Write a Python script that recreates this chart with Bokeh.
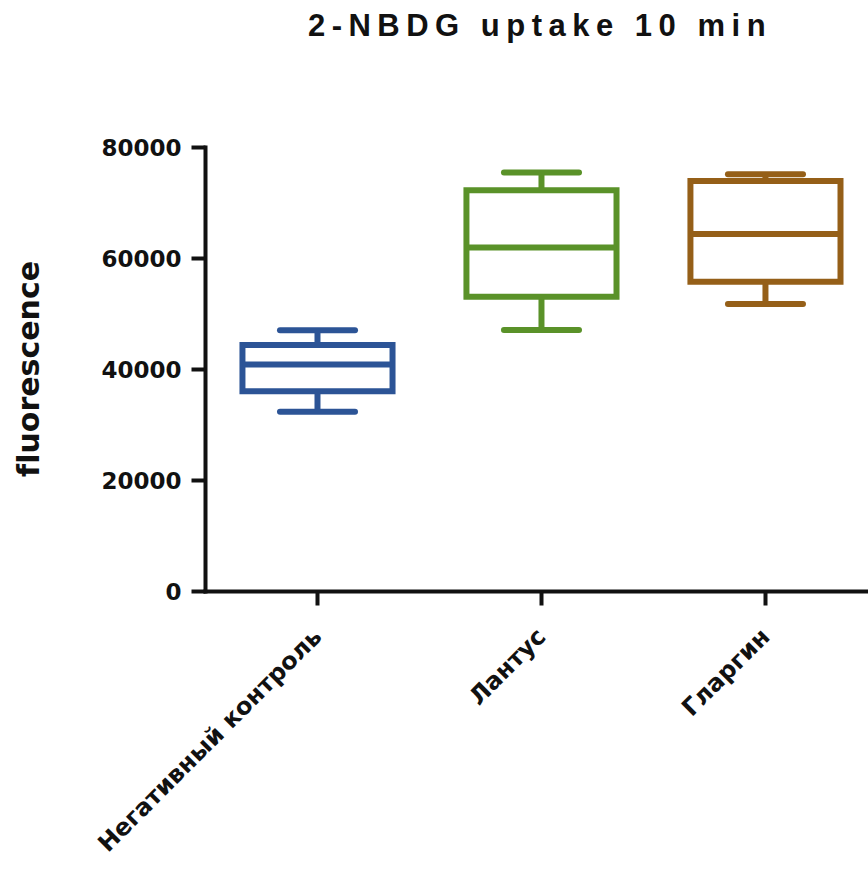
import math
from bokeh.plotting import figure
from bokeh.models import (Range1d, FixedTicker, NumeralTickFormatter, Div,
                          ColumnDataSource, InlineStyleSheet)
from bokeh.layouts import column
from bokeh.embed import file_html
from bokeh.resources import INLINE

# ---- data ----
categories = ["Негативный контроль", "Лантус", "Гларгин"]
whisker_low = [32400, 47100, 51800]
q1 = [36100, 53100, 55800]
median = [40900, 62000, 64400]
q3 = [44400, 72300, 73950]
whisker_high = [47050, 75500, 75200]
colors = ["#2C5496", "#5A9229", "#955F18"]
y_ticks = [0, 20000, 40000, 60000, 80000]
title_text = "2-NBDG uptake 10 min"
y_label = "fluorescence"

xpos = [i + 0.5 for i in range(len(categories))]
box_w = 0.67
cap_w = 0.335

src = ColumnDataSource(dict(
    x=xpos, lo=whisker_low, q1=q1, med=median, q3=q3, hi=whisker_high,
    color=colors,
    box_l=[x - box_w / 2 for x in xpos], box_r=[x + box_w / 2 for x in xpos],
    cap_l=[x - cap_w / 2 for x in xpos], cap_r=[x + cap_w / 2 for x in xpos],
))

TITLE_H = 60
title = Div(
    text=('<div style="font-family:\'Liberation Sans\',Arial,sans-serif;font-weight:bold;'
          'font-size:31px;letter-spacing:6.5px;line-height:31px;color:#111;'
          'width:868px;box-sizing:border-box;padding-left:212px;padding-top:10px;'
          'text-align:center;white-space:nowrap;">' + title_text + '</div>'),
    width=868, height=TITLE_H, margin=0,
)

p = figure(
    width=868, height=893 - TITLE_H,
    x_range=Range1d(0, 2.96), y_range=Range1d(0, 80000),
    output_backend="svg", toolbar_location=None,
    min_border_left=205, min_border_right=0,
    min_border_top=147 - TITLE_H, min_border_bottom=302,
)
p.stylesheets = [InlineStyleSheet(css=":host { font-variant-ligatures: none; }")]
p.outline_line_color = None
p.xgrid.visible = False
p.ygrid.visible = False
p.background_fill_color = "white"
p.border_fill_color = "white"

# whiskers
p.segment(x0="x", y0="q3", x1="x", y1="hi", source=src, line_color="color", line_width=6)
p.segment(x0="x", y0="lo", x1="x", y1="q1", source=src, line_color="color", line_width=6)
# caps
p.segment(x0="cap_l", y0="hi", x1="cap_r", y1="hi", source=src, line_color="color",
          line_width=6, line_cap="round")
p.segment(x0="cap_l", y0="lo", x1="cap_r", y1="lo", source=src, line_color="color",
          line_width=6, line_cap="round")
# boxes
p.quad(left="box_l", right="box_r", bottom="q1", top="q3", source=src,
       fill_color="white", line_color="color", line_width=6, line_join="miter")
# medians
p.segment(x0="box_l", y0="med", x1="box_r", y1="med", source=src, line_color="color",
          line_width=6)

FONT = "DejaVu Sans"
AX = "#111111"

# y axis
ya = p.yaxis[0]
ya.ticker = FixedTicker(ticks=y_ticks)
ya.formatter = NumeralTickFormatter(format="0")
ya.axis_label = y_label
ya.axis_label_text_font = FONT
ya.axis_label_text_font_style = "bold"
ya.axis_label_text_font_size = "30px"
ya.axis_label_text_color = AX
ya.axis_label_standoff = 52
ya.major_label_text_font = FONT
ya.major_label_text_font_style = "bold"
ya.major_label_text_font_size = "23px"
ya.major_label_text_color = AX
ya.major_label_standoff = 10
ya.axis_line_width = 4
ya.axis_line_color = AX
ya.axis_line_cap = "square"
ya.major_tick_line_width = 4
ya.major_tick_line_color = AX
ya.major_tick_out = 14
ya.major_tick_in = 0
ya.minor_tick_line_color = None

# x axis
xa = p.xaxis[0]
xa.ticker = FixedTicker(ticks=xpos)
xa.major_label_overrides = {x: c for x, c in zip(xpos, categories)}
xa.major_label_orientation = math.pi / 4
xa.major_label_text_font = FONT
xa.major_label_text_font_style = "bold"
xa.major_label_text_font_size = "24px"
xa.major_label_text_color = AX
xa.major_label_standoff = 27
xa.axis_line_width = 4
xa.axis_line_color = AX
xa.axis_line_cap = "square"
xa.major_tick_line_width = 4
xa.major_tick_line_color = AX
xa.major_tick_out = 14
xa.major_tick_in = 0
xa.minor_tick_line_color = None

layout = column(title, p, spacing=0)
open("out.html", "w").write(file_html(layout, INLINE))
